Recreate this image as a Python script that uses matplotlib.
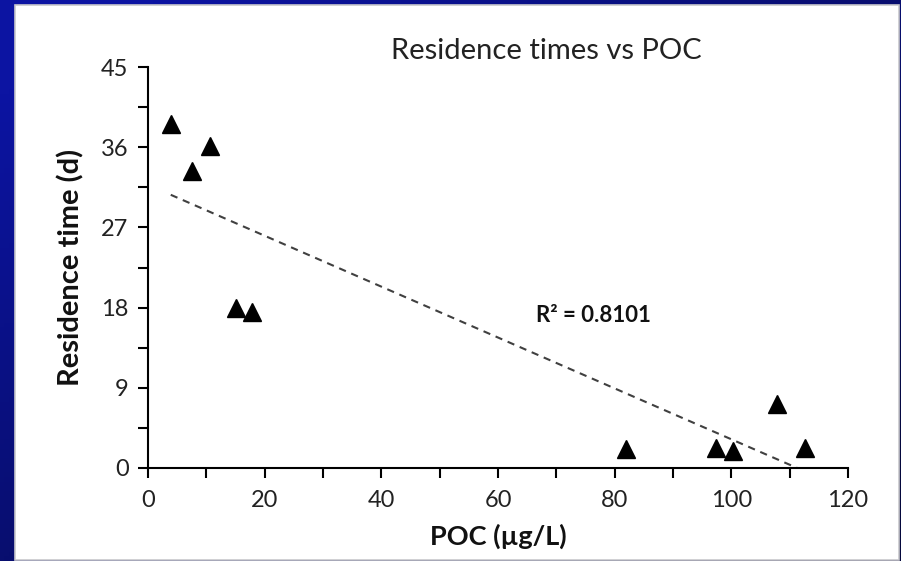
import numpy as np
import matplotlib
matplotlib.use("Agg")
import matplotlib.pyplot as plt
from matplotlib.patches import Rectangle
from matplotlib.ticker import MultipleLocator

# data
poc = [3.9, 7.5, 10.7, 15.0, 17.8, 82.0, 97.3, 100.2, 107.8, 112.7]
res_time = [38.6, 33.3, 36.1, 18.0, 17.5, 2.1, 2.3, 1.9, 7.2, 2.3]
r2_label = "R² = 0.8101"
x_ticks = [0, 20, 40, 60, 80, 100, 120]
y_ticks = [0, 9, 18, 27, 36, 45]

plt.rcParams['font.family'] = ['Lato', 'DejaVu Sans']

fig = plt.figure(figsize=(9.01, 5.61), dpi=100)

# dark blue slide background with a gradient
bg = fig.add_axes([0, 0, 1, 1])
gx = np.linspace(0, 1, 200)
gy = np.linspace(0, 1, 120)
GX, GY = np.meshgrid(gx, gy)
t = np.clip(0.6 * GX + 0.6 * (1 - GY) - 0.1, 0, 1)
c0 = np.array([0x0c, 0x14, 0xa2]) / 255
c1 = np.array([0x04, 0x08, 0x3c]) / 255
img = c0[None, None, :] * (1 - t[..., None]) + c1[None, None, :] * t[..., None]
bg.imshow(img, extent=[0, 1, 0, 1], aspect='auto', origin='lower')
bg.add_patch(Rectangle((15 / 901, 1 / 561), 884 / 901, 555 / 561,
                       facecolor='white', edgecolor='#c8c8cc', linewidth=1.2))
bg.set_xlim(0, 1)
bg.set_ylim(0, 1)
bg.axis('off')

ax = fig.add_axes([148 / 901, 1 - 468 / 561, 700 / 901, 401 / 561])
ax.patch.set_alpha(0)

ax.plot(poc, res_time, linestyle='none', marker='^', markersize=13,
        color='black', zorder=3)

# linear trend line over the data range
slope, icpt = np.polyfit(poc, res_time, 1)
xs = np.array([min(poc), max(poc)])
ax.plot(xs, slope * xs + icpt, linestyle=(0, (3.5, 2.8)), color='#404040',
        linewidth=1.5, zorder=2)

ax.text(66.6, 17.1, r2_label, fontsize=16, fontweight='bold', color='#111',
        va='center', ha='left')

ax.set_xlim(0, 120)
ax.set_ylim(0, 45)
ax.set_xticks(x_ticks)
ax.set_yticks(y_ticks)
ax.xaxis.set_minor_locator(MultipleLocator(10))
ax.yaxis.set_minor_locator(MultipleLocator(4.5))
ax.tick_params(which='both', direction='out', length=7, width=1.5,
               color='black', labelsize=17, labelcolor='#222')
ax.tick_params(axis='x', pad=9)
ax.tick_params(axis='y', pad=7)
for s in ['top', 'right']:
    ax.spines[s].set_visible(False)
for s in ['left', 'bottom']:
    ax.spines[s].set_linewidth(1.5)

ax.set_xlabel("POC (µg/L)", fontsize=19.5, fontweight='bold', color='#111',
              labelpad=9)
ax.set_ylabel("Residence time (d)", fontsize=21, fontweight='bold',
              color='#111', labelpad=12)
ax.set_title("Residence times vs POC", fontsize=21, color='#222', pad=6,
             x=(546 - 148) / 700)

fig.savefig("out.png", dpi=100)
